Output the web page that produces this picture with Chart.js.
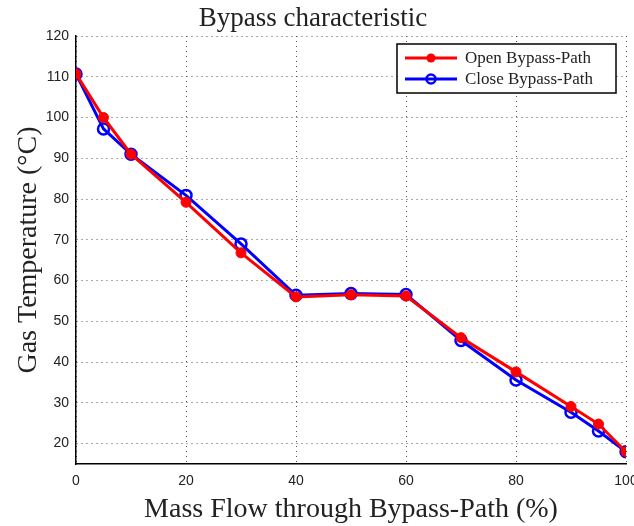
<!DOCTYPE html>
<html><head><meta charset="utf-8">
<script src="https://cdn.jsdelivr.net/npm/chart.js@4"></script>
<style>html,body{margin:0;padding:0;background:#fff}#wrap{width:634px;height:526px}</style>
</head><body><div id="wrap"><canvas id="c" width="634" height="526"></canvas></div>
<script>
const massFlow = [0, 5, 10, 20, 30, 40, 50, 60, 70, 80, 90, 95, 100];
const openPath = [110.7, 100.0, 91.0, 79.2, 66.8, 56.0, 56.5, 56.2, 46.0, 37.6, 29.1, 24.8, 18.0];
const closePath = [110.7, 97.2, 91.0, 80.9, 69.0, 56.4, 56.8, 56.6, 45.3, 35.6, 27.7, 23.1, 18.0];
const yTicks = [20, 30, 40, 50, 60, 70, 80, 90, 100, 110, 120];
const xTicks = [0, 20, 40, 60, 80, 100];
const seriesNames = ['Open Bypass-Path', 'Close Bypass-Path'];

const serif = "'Liberation Serif', 'DejaVu Serif', serif";
const sans = "'Liberation Sans', Arial, sans-serif";

const legendPlugin = {
  id: 'boxLegend',
  afterDraw(chart) {
    const ctx = chart.ctx;
    const x0 = 397, y0 = 44, w = 219, h = 49;
    ctx.save();
    ctx.fillStyle = '#fff';
    ctx.fillRect(x0, y0, w, h);
    ctx.strokeStyle = '#000';
    ctx.lineWidth = 1.5;
    ctx.strokeRect(x0, y0, w, h);
    chart.data.datasets.forEach((ds, i) => {
      const y = y0 + 14 + i * 21;
      ctx.strokeStyle = ds.borderColor;
      ctx.lineWidth = 3;
      ctx.beginPath(); ctx.moveTo(405, y); ctx.lineTo(457, y); ctx.stroke();
      ctx.beginPath(); ctx.arc(431, y, 4.5, 0, Math.PI * 2);
      if (i === 0) { ctx.fillStyle = ds.borderColor; ctx.fill(); }
      else { ctx.lineWidth = 2.5; ctx.stroke(); }
      ctx.fillStyle = '#222';
      ctx.font = "17px " + serif;
      ctx.textBaseline = 'middle';
      ctx.textAlign = 'left';
      ctx.fillText(ds.label, 465, y + 1);
    });
    ctx.restore();
  }
};

new Chart(document.getElementById('c'), {
  type: 'line',
  data: {
    datasets: [
      { label: seriesNames[0], data: massFlow.map((x, i) => ({x, y: openPath[i]})),
        borderColor: '#ff0000', backgroundColor: '#ff0000', borderWidth: 3,
        pointRadius: 5, pointBorderWidth: 1, pointBackgroundColor: '#ff0000', pointStyle: 'circle', tension: 0 },
      { label: seriesNames[1], data: massFlow.map((x, i) => ({x, y: closePath[i]})),
        borderColor: '#0000ff', backgroundColor: 'rgba(0,0,0,0)', borderWidth: 3,
        pointRadius: 5.5, pointBorderWidth: 2.5, pointBackgroundColor: 'rgba(0,0,0,0)', pointStyle: 'circle', tension: 0 }
    ]
  },
  options: {
    responsive: false, animation: false,
    layout: { padding: { left: 0, right: 8, top: 0, bottom: 0 } },
    plugins: {
      legend: { display: false },
      tooltip: { enabled: false },
      title: { display: true, text: 'Bypass characteristic', color: '#222',
        font: { family: serif, size: 27, weight: 'normal', lineHeight: 1.2 }, padding: { top: 3, bottom: 0.6 } }
    },
    scales: {
      x: {
        type: 'linear', min: 0, max: 100,
        afterBuildTicks(s) { s.ticks = xTicks.map(v => ({value: v})); },
        afterFit(s) { s.height = 62; s.paddingRight = 0; s.paddingLeft = 0; },
        grid: { color: '#555', lineWidth: 1, drawTicks: false },
        border: { display: true, color: '#000', width: 1.5, dash: [1, 4] },
        ticks: { color: '#222', font: { family: sans, size: 14 }, padding: 9, maxRotation: 0 },
        title: { display: true, text: 'Mass Flow through Bypass-Path (%)', color: '#222',
          font: { family: serif, size: 28, lineHeight: 1.2 }, padding: { top: 0, bottom: 0 } }
      },
      y: {
        type: 'linear', min: 15, max: 120,
        afterBuildTicks(s) { s.ticks = yTicks.map(v => ({value: v})); },
        afterFit(s) { s.width = 76; s.paddingTop = 0; s.paddingBottom = 0; },
        grid: { color: '#555', lineWidth: 1, drawTicks: false },
        border: { display: true, color: '#000', width: 1.5, dash: [1, 4] },
        ticks: { color: '#222', font: { family: sans, size: 14 }, padding: 7 },
        title: { display: true, text: 'Gas Temperature (°C)', color: '#222',
          font: { family: serif, size: 28, lineHeight: 1.2 }, padding: { top: 12, bottom: 0 } }
      }
    }
  },
  plugins: [legendPlugin]
});
</script></body></html>
